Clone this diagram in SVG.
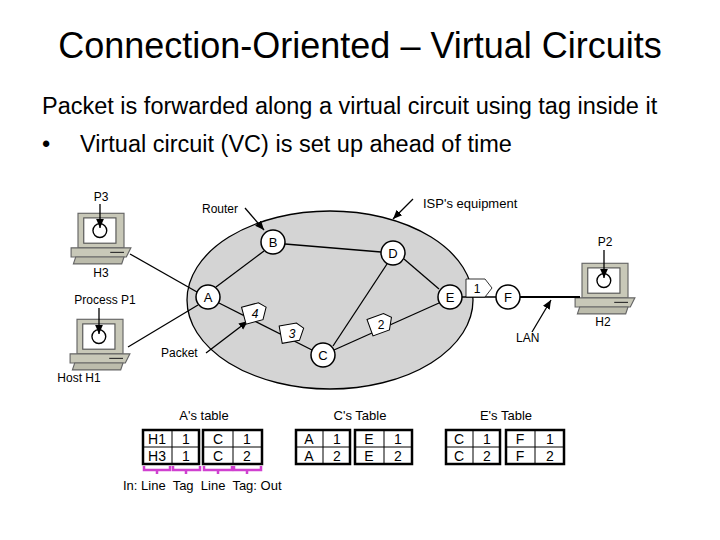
<svg xmlns="http://www.w3.org/2000/svg" width="720" height="540" viewBox="0 0 720 540">
<style>
text{font-family:"Liberation Sans",Arial,sans-serif;fill:#000}
.t{font-size:36px}.s{font-size:23.5px}.l{font-size:12px}.n{font-size:13px}.c{font-size:14px}
.node circle{fill:#fff;stroke:#000;stroke-width:1.5}
.ln{stroke:#000;stroke-width:1.3;fill:none}
.tb{fill:#fff;stroke:#000;stroke-width:2.5}
.tl{stroke:#000;stroke-width:1}
.pk{fill:#fff;stroke:#000;stroke-width:0.8}
.br{stroke:#d040d0;stroke-width:2.5;fill:none}
</style>
<defs><marker id="ar" markerWidth="8" markerHeight="8" refX="7" refY="4" orient="auto"><path d="M0,1 L7,4 L0,7z" fill="#000"/></marker>
<g id="pc"><rect x="-20" y="-18" width="40" height="30" fill="#c8c8b8" stroke="#666"/><rect x="-15" y="-14" width="28" height="22" fill="#fff" stroke="#555"/><circle cx="-1" cy="-3" r="6" fill="#fff" stroke="#000" stroke-width="1.2"/><path d="M-26,12 H26 L22,20 H-26z" fill="#c8c8b8" stroke="#666"/><path d="M-22,20 H20 L18,26 H-24z" fill="#bcbcac" stroke="#666"/><line x1="8" y1="16" x2="20" y2="16" stroke="#333"/></g>
<path id="tag" d="M-9,-8 H5 L10,-3 L5,6 H-9z"/></defs>
<text class="t" x="360" y="58" text-anchor="middle">Connection-Oriented – Virtual Circuits</text>
<text class="s" x="42" y="114">Packet is forwarded along a virtual circuit using tag inside it</text>
<text class="s" x="42" y="152">•</text><text class="s" x="80" y="152">Virtual circuit (VC) is set up ahead of time</text>
<ellipse cx="330" cy="300" rx="143" ry="89" fill="#d4d4d4" stroke="#000" stroke-width="1.3"/>
<g id="H3"><use href="#pc" transform="translate(101,234) scale(1.15)"/><text class="l" x="101" y="277" text-anchor="middle">H3</text><text class="l" x="101" y="201" text-anchor="middle">P3</text></g>
<g id="H1"><use href="#pc" transform="translate(100,340) scale(1.15)"/><text class="l" x="79" y="382" text-anchor="middle">Host H1</text><text class="l" x="105" y="304" text-anchor="middle">Process P1</text></g>
<g id="H2"><use href="#pc" transform="translate(605,284) scale(1.15)"/><text class="l" x="603" y="326" text-anchor="middle">H2</text><text class="l" x="605" y="246" text-anchor="middle">P2</text></g>
<g id="connectors">
<line class="ln" x1="130" y1="254" x2="197" y2="292"/>
<line class="ln" x1="128" y1="347" x2="198" y2="305"/>
<line class="ln" x1="216" y1="287" x2="264" y2="251"/>
<line class="ln" x1="285" y1="244" x2="381" y2="252"/>
<line class="ln" x1="219" y1="303" x2="312" y2="350"/>
<line class="ln" x1="333" y1="346" x2="387" y2="264"/>
<line class="ln" x1="404" y1="259" x2="439" y2="289"/>
<line class="ln" x1="334" y1="350" x2="439" y2="303"/>
<line class="ln" x1="462" y1="297" x2="496" y2="297"/>
<line x1="520" y1="297" x2="580" y2="297" stroke="#000" stroke-width="2"/>
<line class="ln" x1="100" y1="204" x2="100" y2="228" marker-end="url(#ar)"/>
<line class="ln" x1="99" y1="308" x2="99" y2="334" marker-end="url(#ar)"/>
<line class="ln" x1="604" y1="250" x2="604" y2="278" marker-end="url(#ar)"/>
<line class="ln" x1="245" y1="208" x2="264" y2="230" marker-end="url(#ar)"/>
<line class="ln" x1="413" y1="199" x2="393" y2="219" marker-end="url(#ar)"/>
<line class="ln" x1="206" y1="353" x2="248" y2="321" marker-end="url(#ar)"/>
<line class="ln" x1="532" y1="332" x2="551" y2="300" marker-end="url(#ar)"/>
</g>
<text class="l" x="202" y="213">Router</text>
<text class="n" x="423" y="208">ISP's equipment</text>
<text class="l" x="161" y="357">Packet</text>
<text class="l" x="516" y="342">LAN</text>
<g id="pkt">
<use href="#tag" class="pk" transform="translate(255,314) rotate(-15) scale(1.25)"/><text class="l" x="255" y="318" text-anchor="middle" font-style="italic">4</text>
<use href="#tag" class="pk" transform="translate(292,334) rotate(-10) scale(1.25)"/><text class="l" x="292" y="338" text-anchor="middle" font-style="italic">3</text>
<use href="#tag" class="pk" transform="translate(381,325) rotate(-20) scale(1.25)"/><text class="l" x="381" y="329" text-anchor="middle">2</text>
<path class="pk" d="M466,279 H485 L492,288 L485,297 H466z"/><text class="l" x="477" y="293" text-anchor="middle">1</text></g>
<g id="A" class="node"><circle cx="208" cy="297" r="12"/><text class="n" x="208" y="302" text-anchor="middle">A</text></g>
<g id="B" class="node"><circle cx="273" cy="242" r="12"/><text class="n" x="273" y="247" text-anchor="middle">B</text></g>
<g id="C" class="node"><circle cx="323" cy="355" r="12"/><text class="n" x="323" y="360" text-anchor="middle">C</text></g>
<g id="D" class="node"><circle cx="393" cy="253" r="12"/><text class="n" x="393" y="258" text-anchor="middle">D</text></g>
<g id="E" class="node"><circle cx="450" cy="297" r="12"/><text class="n" x="450" y="302" text-anchor="middle">E</text></g>
<g id="F" class="node"><circle cx="508" cy="297" r="12"/><text class="n" x="508" y="302" text-anchor="middle">F</text></g>
<g id="tables">
<text class="n" x="204" y="420" text-anchor="middle">A's table</text>
<text class="n" x="360" y="420" text-anchor="middle">C's Table</text>
<text class="n" x="506" y="420" text-anchor="middle">E's Table</text>
<g id="tA">
<rect class="tb" x="143" y="430" width="56" height="34"/><line class="tl" x1="172" y1="430" x2="172" y2="464"/><line class="tl" x1="143" y1="447" x2="199" y2="447"/>
<rect class="tb" x="203" y="430" width="59" height="34"/><line class="tl" x1="233" y1="430" x2="233" y2="464"/><line class="tl" x1="203" y1="447" x2="262" y2="447"/>
<text class="c" x="157" y="444" text-anchor="middle">H1</text><text class="c" x="186" y="444" text-anchor="middle">1</text><text class="c" x="218" y="444" text-anchor="middle">C</text><text class="c" x="247" y="444" text-anchor="middle">1</text>
<text class="c" x="157" y="461" text-anchor="middle">H3</text><text class="c" x="186" y="461" text-anchor="middle">1</text><text class="c" x="218" y="461" text-anchor="middle">C</text><text class="c" x="247" y="461" text-anchor="middle">2</text>
</g>
<g id="tC">
<rect class="tb" x="296" y="430" width="54" height="34"/><line class="tl" x1="323" y1="430" x2="323" y2="464"/><line class="tl" x1="296" y1="447" x2="350" y2="447"/>
<rect class="tb" x="355" y="430" width="57" height="34"/><line class="tl" x1="384" y1="430" x2="384" y2="464"/><line class="tl" x1="355" y1="447" x2="412" y2="447"/>
<text class="c" x="309" y="444" text-anchor="middle">A</text><text class="c" x="337" y="444" text-anchor="middle">1</text><text class="c" x="369" y="444" text-anchor="middle">E</text><text class="c" x="398" y="444" text-anchor="middle">1</text>
<text class="c" x="309" y="461" text-anchor="middle">A</text><text class="c" x="337" y="461" text-anchor="middle">2</text><text class="c" x="369" y="461" text-anchor="middle">E</text><text class="c" x="398" y="461" text-anchor="middle">2</text>
</g>
<g id="tE">
<rect class="tb" x="446" y="430" width="54" height="34"/><line class="tl" x1="473" y1="430" x2="473" y2="464"/><line class="tl" x1="446" y1="447" x2="500" y2="447"/>
<rect class="tb" x="506" y="430" width="58" height="34"/><line class="tl" x1="535" y1="430" x2="535" y2="464"/><line class="tl" x1="506" y1="447" x2="564" y2="447"/>
<text class="c" x="459" y="444" text-anchor="middle">C</text><text class="c" x="487" y="444" text-anchor="middle">1</text><text class="c" x="520" y="444" text-anchor="middle">F</text><text class="c" x="550" y="444" text-anchor="middle">1</text>
<text class="c" x="459" y="461" text-anchor="middle">C</text><text class="c" x="487" y="461" text-anchor="middle">2</text><text class="c" x="520" y="461" text-anchor="middle">F</text><text class="c" x="550" y="461" text-anchor="middle">2</text>
</g>
<path class="br" d="M144,466 V470 H170 V466 M157,470 V474"/>
<path class="br" d="M173,466 V470 H200 V466 M186,470 V474"/>
<path class="br" d="M204,466 V470 H232 V466 M218,470 V474"/>
<path class="br" d="M234,466 V470 H261 V466 M247,470 V474"/>
<text class="n" x="123" y="490" xml:space="preserve">In: Line  Tag  Line  Tag: Out</text>
</g>
</svg>
